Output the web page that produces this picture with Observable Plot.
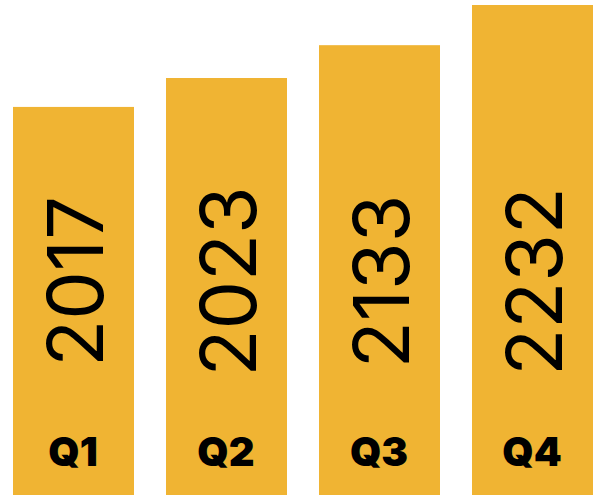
<!DOCTYPE html>
<html>
<head>
<meta charset="utf-8">
<script src="https://cdn.jsdelivr.net/npm/d3@7"></script>
<script src="https://cdn.jsdelivr.net/npm/@observablehq/plot@0.6"></script>
<style>
  html, body { margin: 0; padding: 0; background: #fff; }
  #chart svg { display: block; }
</style>
</head>
<body>
<div id="chart"></div>
<script>
const quarters = ["Q1", "Q2", "Q3", "Q4"];
const labels = ["2017", "2023", "2133", "2232"];
// relative bar heights (tallest = 100)
const levels = [79.2, 85.1, 91.8, 100];

const data = quarters.map((q, i) => ({ q, label: labels[i], level: levels[i] }));

const chart = Plot.plot({
  width: 597,
  height: 495,
  marginLeft: 12,
  marginRight: 2,
  marginTop: 5,
  marginBottom: 0,
  style: { fontFamily: "Inter, sans-serif", background: "#fff" },
  x: { domain: quarters, paddingInner: 0.206, paddingOuter: 0, axis: null },
  y: { domain: [0, 100], axis: null },
  marks: [
    Plot.barY(data, { x: "q", y: "level", fill: "#F0B433" }),
    Plot.text(data, {
      x: "q", text: "label", rotate: -90, frameAnchor: "middle", dy: 31, dx: 4,
      fontSize: 77, fontWeight: 400, fill: "#000", textAnchor: "middle"
    }),
    Plot.text(data, {
      x: "q", text: "q", frameAnchor: "bottom", lineAnchor: "middle", dy: -42, dx: -1,
      fontSize: 40, fontWeight: 900, fill: "#000", textAnchor: "middle"
    })
  ]
});
document.getElementById("chart").append(chart);
</script>
</body>
</html>
